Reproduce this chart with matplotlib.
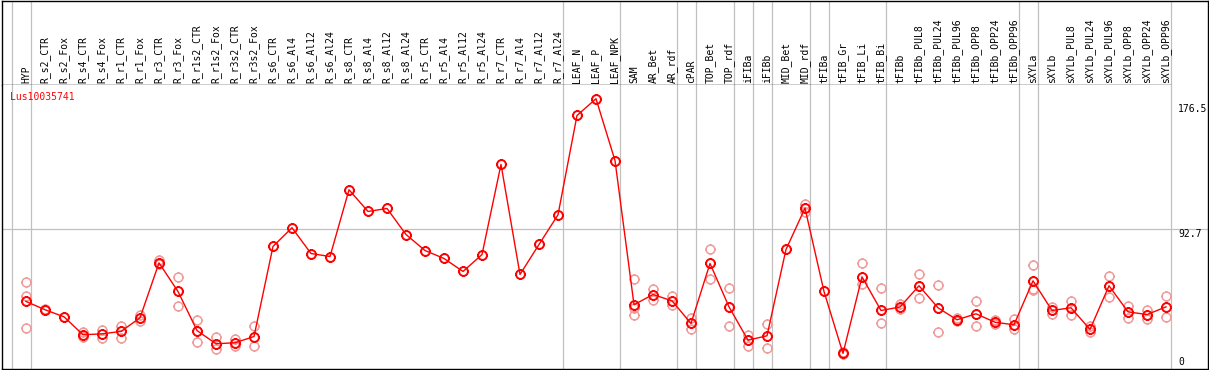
# -*- coding: utf-8 -*-
"""
    Expression profile of Lus10035741 across samples
"""
import matplotlib
matplotlib.use('Agg')
import matplotlib.pyplot as plt
import matplotlib.transforms as mtransforms
from matplotlib.path import Path

gene_name = 'Lus10035741'

sample_names = [
    'HYP', 'R_s2_CTR', 'R_s2_Fox', 'R_s4_CTR', 'R_s4_Fox', 'R_r1_CTR', 'R_r1_Fox',
    'R_r3_CTR', 'R_r3_Fox', 'R_r1s2_CTR', 'R_r1s2_Fox', 'R_r3s2_CTR', 'R_r3s2_Fox',
    'R_s6_CTR', 'R_s6_Al4', 'R_s6_Al12', 'R_s6_Al24', 'R_s8_CTR', 'R_s8_Al4',
    'R_s8_Al12', 'R_s8_Al24', 'R_r5_CTR', 'R_r5_Al4', 'R_r5_Al12', 'R_r5_Al24',
    'R_r7_CTR', 'R_r7_Al4', 'R_r7_Al12', 'R_r7_Al24', 'LEAF_N', 'LEAF_P', 'LEAF_NPK',
    'SAM', 'AR_Bet', 'AR_rdf', 'cPAR', 'TOP_Bet', 'TOP_rdf', 'iFIBa', 'iFIBb',
    'MID_Bet', 'MID_rdf', 'tFIBa', 'tFIB_Gr', 'tFIB_Li', 'tFIB_Bi', 'tFIBb',
    'tFIBb_PUL8', 'tFIBb_PUL24', 'tFIBb_PUL96', 'tFIBb_OPP8', 'tFIBb_OPP24', 'tFIBb_OPP96',
    'sXYLa', 'sXYLb', 'sXYLb_PUL8', 'sXYLb_PUL24', 'sXYLb_PUL96', 'sXYLb_OPP8',
    'sXYLb_OPP24', 'sXYLb_OPP96',
]

# mean expression per sample
mean_values = [
    44.5, 39.0, 34.3, 22.4, 23.0, 24.6, 33.6, 70.1, 51.1, 25.2, 16.4, 17.1, 21.2,
    81.0, 93.4, 76.3, 74.3, 118.6, 104.2, 106.2, 88.9, 78.3, 73.0, 64.4, 75.6,
    135.4, 62.4, 82.3, 102.0, 167.9, 179.0, 138.0,
    42.3, 49.1, 44.9, 29.9, 69.7, 40.9, 18.8, 21.7, 79.0, 106.4, 51.1, 10.0, 60.8,
    38.5, 40.8, 54.9, 40.3, 32.3, 36.3, 30.7, 29.0, 58.2, 38.5, 40.3, 25.9, 54.9,
    37.6, 35.8, 40.9,
]

# individual replicates per sample
replicate_values = [
    [57.7, 47.8, 27.2], [39.4, 38.6], [], [23.9, 20.8], [25.7, 20.4], [27.9, 20.1],
    [35.8, 31.4], [72.1, 69.5], [61.0, 41.6], [31.9, 17.9], [20.8, 13.1], [19.4, 14.6],
    [27.9, 14.8],
    [], [], [], [], [], [], [], [], [], [], [], [], [], [], [], [], [], [], [],
    [59.5, 40.0, 35.2], [52.9, 45.3], [47.8, 42.0], [33.4, 26.1], [79.4, 59.5],
    [53.5, 28.3], [21.9, 14.8], [29.7, 13.9], [], [109.3, 103.7], [], [10.8, 9.4],
    [69.7, 56.2], [53.5, 30.5], [42.5, 39.3], [62.8, 46.9], [55.5, 24.4], [33.2, 31.4],
    [44.9, 28.1], [31.9, 29.7], [32.7, 26.1], [68.8, 52.9, 51.8], [40.7, 36.3],
    [44.5, 35.6], [27.9, 23.9], [61.7, 47.6], [41.8, 33.2], [38.5, 32.7], [47.8, 34.0],
]

# samples after which a group separator is drawn
group_ends = [-1, 0, 28, 31, 34, 35, 37, 38, 39, 41, 42, 45, 52, 53, 60]

y_ticks = [0, 92.7, 176.5]

W, H = 1209, 370
MONO = 'DejaVu Sans Mono'


def ring_marker():
    """
        circle with four small ticks
    """
    circle = Path.unit_circle()
    ticks = Path([(0, 1), (0, 1.18), (0, -1), (0, -1.18), (1, 0), (1.18, 0), (-1, 0), (-1.18, 0)],
                 [Path.MOVETO, Path.LINETO] * 4)
    return Path.make_compound_path(circle, ticks)


def main():
    fig = plt.figure(figsize=(W / 100, H / 100), dpi=100)

    left, right = 1.5, 1207.5
    header_bottom, plot_bottom = 85, 368.5
    ax_h = fig.add_axes([left / W, (H - header_bottom) / H, (right - left) / W, (header_bottom - 0.5) / H])
    ax = fig.add_axes([left / W, (H - plot_bottom) / H, (right - left) / W, (plot_bottom - header_bottom) / H])

    # x: one column every 19 px, first column centre at 26 px
    xlim = ((left - 26) / 19, (right - 26) / 19)
    px_per_unit = 1.507
    for a in (ax, ax_h):
        a.set_xlim(*xlim)
        a.set_xticks([])
        a.set_yticks([])
        for s in a.spines.values():
            s.set_linewidth(1.0)
            s.set_color('black')
    ax.set_ylim(0, (plot_bottom - header_bottom) / px_per_unit)
    ax.spines['top'].set_visible(False)
    ax_h.spines['bottom'].set_visible(False)
    ax_h.set_ylim(0, 1)

    sep_x = [g + 0.24 for g in group_ends]
    for x in sep_x:
        ax.axvline(x, color='#c0c0c0', lw=0.9, zorder=0)
        ax_h.axvline(x, color='#c0c0c0', lw=0.9, zorder=0)
    ax_h.hlines(0, xlim[0], sep_x[-1], color='black', lw=1.0, clip_on=False)
    ax.axhline(y_ticks[1], color='#c0c0c0', lw=0.9, zorder=0)

    marker = ring_marker()
    xs = list(range(len(sample_names)))
    for i, reps in enumerate(replicate_values):
        if reps:
            ax.plot([i] * len(reps), reps, ls='none', marker=marker, ms=7.5,
                    mfc='none', mec='#f09a9a', mew=1.1, zorder=2)
    ax.plot(xs, mean_values, color='red', lw=1.0, marker=marker, ms=7.5,
            mfc='none', mec='red', mew=1.4, zorder=3)

    # sample labels in the header
    hdr = mtransforms.offset_copy(ax_h.transData, fig=fig, y=2, units='dots')
    for i, name in enumerate(sample_names):
        ax_h.text(i, 0, name, rotation=90, ha='center', va='bottom', fontsize=7,
                  family=MONO, transform=hdr)

    # value labels on the right
    label_offsets = {0: 6.3, 92.7: -4.7, 176.5: -6.5}
    for v in y_ticks:
        tr = mtransforms.offset_copy(
            mtransforms.blended_transform_factory(ax.transData, ax.transData),
            fig=fig, x=7.5, y=label_offsets[v], units='dots')
        ax.text(sep_x[-1], v, str(v), ha='left', va='center', fontsize=7, family=MONO,
                transform=tr)

    gl = mtransforms.offset_copy(ax.transAxes, fig=fig, x=8.5, y=-12, units='dots')
    ax.text(0, 1, gene_name, color='red', fontsize=7, family=MONO, ha='left', va='center',
            transform=gl)

    fig.savefig('out.png', dpi=100)


if __name__ == '__main__':
    main()
